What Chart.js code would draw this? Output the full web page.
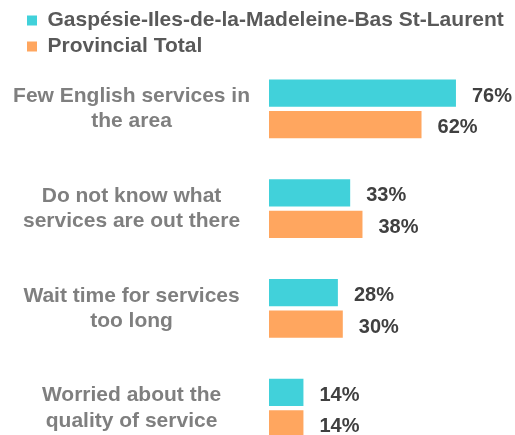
<!DOCTYPE html>
<html>
<head>
<meta charset="utf-8">
<script src="https://cdn.jsdelivr.net/npm/chart.js@4.4.1/dist/chart.umd.min.js"></script>
<style>
  html, body { margin: 0; padding: 0; overflow: hidden; background: #fff; }
</style>
</head>
<body>
<canvas id="barChart" width="515" height="458"></canvas>
<script>
// Data
const categories = [
    ['Few English services in', 'the area'],
    ['Do not know what', 'services are out there'],
    ['Wait time for services', 'too long'],
    ['Worried about the', 'quality of service']
];
const seriesNames = ['Gaspésie-Iles-de-la-Madeleine-Bas St-Laurent', 'Provincial Total'];
const regionValues = [76, 33, 28, 14];
const provincialValues = [62, 38, 30, 14];

const barColors = ['#41D1DA', '#FFA65F'];
const fontFamily = '"Liberation Sans", Arial, sans-serif';

// Plugin: value labels next to the bars
const valueLabels = {
    id: 'valueLabels',
    afterDatasetsDraw(chart) {
        const ctx = chart.ctx;
        ctx.save();
        ctx.font = 'bold 20px ' + fontFamily;
        ctx.fillStyle = '#404040';
        ctx.textAlign = 'left';
        ctx.textBaseline = 'middle';
        chart.data.datasets.forEach((ds, i) => {
            chart.getDatasetMeta(i).data.forEach((bar, j) => {
                ctx.fillText(ds.data[j] + '%', bar.x + 16, bar.y + 3);
            });
        });
        ctx.restore();
    }
};

// Plugin: move the legend a bit to the right / down
const legendShift = {
    id: 'legendShift',
    afterLayout(chart) {
        chart.legend.left += 9;
        chart.legend.top += 8;
    }
};

const ctx = document.getElementById('barChart').getContext('2d');
const barChart = new Chart(ctx, {
    type: 'bar',
    data: {
        labels: categories,
        datasets: [{
            label: seriesNames[0],
            data: regionValues,
            backgroundColor: barColors[0]
        }, {
            label: seriesNames[1],
            data: provincialValues,
            backgroundColor: barColors[1]
        }]
    },
    options: {
        indexAxis: 'y',
        responsive: false,
        animation: false,
        categoryPercentage: 0.63,
        barPercentage: 0.87,
        layout: { padding: { left: 13, right: 0, top: -3, bottom: 0 } },
        scales: {
            x: {
                display: false,
                min: 0,
                max: 100
            },
            y: {
                grid: { display: false, drawTicks: false },
                border: { display: false },
                ticks: {
                    crossAlign: 'center',
                    padding: 19,
                    labelOffset: 0,
                    color: '#7F7F7F',
                    font: { family: fontFamily, size: 21, weight: 'bold', lineHeight: 1.2 }
                },
                afterFit(scale) {
                    // fixed label column, no extra room above/below the bars
                    scale.width = 256;
                    scale.paddingTop = 0;
                    scale.paddingBottom = 0;
                }
            }
        },
        plugins: {
            legend: {
                position: 'top',
                align: 'start',
                labels: {
                    boxWidth: 10,
                    boxHeight: 10,
                    padding: 5,
                    color: '#595959',
                    font: { family: fontFamily, size: 21, weight: 'bold' }
                }
            },
            tooltip: { enabled: false }
        }
    },
    plugins: [valueLabels, legendShift]
});
</script>
</body>
</html>
